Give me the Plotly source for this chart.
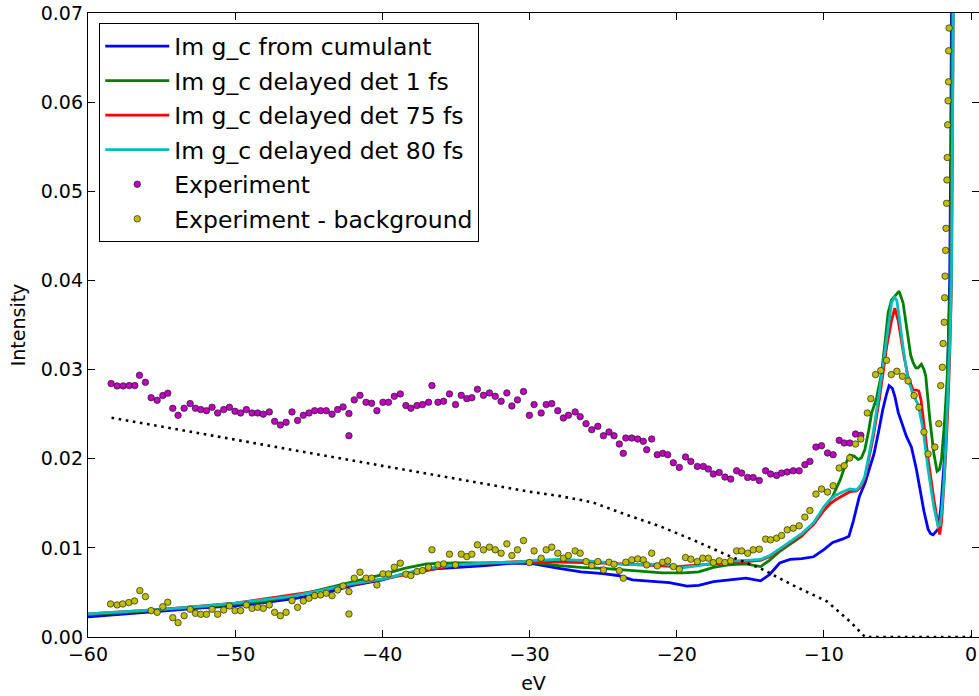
import plotly.graph_objects as go

# ---- model curves: Im g_c ----
cum_x = [-60, -57, -55, -52, -50, -48.3, -46, -44, -42, -40, -38.5, -37, -35, -33, -31, -29.7,
         -28, -26.5, -25, -24, -23, -22, -20.5, -19.3, -18.5, -17.5, -16.5, -15.3, -14.3, -13.7,
         -13.0, -12.3, -11.5, -10.7, -10.0, -9.4, -8.7, -8.3, -8.0, -7.6, -7.2, -6.9, -6.6, -6.3,
         -6.0, -5.75, -5.57, -5.35, -5.18, -4.95, -4.7, -4.39, -4.05, -3.71, -3.45, -3.2, -2.92,
         -2.75, -2.58, -2.4, -2.24, -2.05, -1.9, -1.75, -1.6, -1.45, -1.38, -1.33, -1.3]
cum_y = [0.00225, 0.0026, 0.0029, 0.0033, 0.0035, 0.0038, 0.0043, 0.0049, 0.0058, 0.0064, 0.0071,
         0.0076, 0.0078, 0.0080, 0.0083, 0.0082, 0.0077, 0.0073, 0.0071, 0.0069, 0.0064, 0.0063,
         0.0061, 0.0057, 0.0058, 0.0062, 0.0064, 0.0066, 0.0063, 0.0070, 0.0083, 0.0087, 0.0088,
         0.0090, 0.0098, 0.0106, 0.0110, 0.0113, 0.0130, 0.0157, 0.0173, 0.0188, 0.0205, 0.0229,
         0.0255, 0.0272, 0.0282, 0.0279, 0.0270, 0.0252, 0.0239, 0.0225, 0.0213, 0.0188, 0.0164,
         0.0141, 0.0121, 0.0116, 0.01146, 0.0118, 0.0121, 0.0145, 0.0176, 0.0215, 0.0290, 0.0400,
         0.0550, 0.0720, 0.0800]

d1_x = [-60, -57, -55, -52, -50, -48, -46, -44, -42, -40, -38.5, -37, -35, -33, -31, -29.5, -28,
        -26.5, -25, -24, -22.5, -21, -19.5, -18.5, -17.5, -16.5, -15.3, -14.3, -13.7, -13.0, -12.3,
        -11.5, -10.7, -10.0, -9.4, -8.9, -8.5, -8.24, -7.95, -7.67, -7.45, -7.22, -6.95, -6.76,
        -6.42, -6.08, -5.85, -5.63, -5.4, -5.18, -4.89, -4.62, -4.45, -4.28, -4.1, -3.94, -3.75,
        -3.6, -3.37, -3.2, -3.08, -2.8, -2.53, -2.31, -2.15, -2.01, -1.79, -1.63, -1.5, -1.4,
        -1.33, -1.27, -1.25]
d1_y = [0.0025, 0.0028, 0.0031, 0.0034, 0.0037, 0.0040, 0.0046, 0.0054, 0.0062, 0.0070, 0.0077,
        0.0082, 0.0083, 0.0083, 0.0084, 0.0083, 0.0080, 0.0078, 0.0077, 0.0076, 0.0074, 0.0072,
        0.0072, 0.0073, 0.0078, 0.0081, 0.0082, 0.0079, 0.0086, 0.0096, 0.0104, 0.0113, 0.0128,
        0.0143, 0.0158, 0.0176, 0.0195, 0.0204, 0.0203, 0.0199, 0.0201, 0.0210, 0.0232, 0.0251,
        0.0268, 0.0296, 0.0330, 0.0364, 0.0378, 0.0382, 0.0388, 0.0375, 0.0355, 0.0334, 0.0316,
        0.0308, 0.0302, 0.0302, 0.0306, 0.0300, 0.0293, 0.0244, 0.0206, 0.0186, 0.0188, 0.0199,
        0.0244, 0.0289, 0.0350, 0.0401, 0.0550, 0.0720, 0.0800]

d75_x = [-60, -55, -50, -45, -40, -35, -30, -25, -20, -17.5, -15.3, -14.3, -13.7, -13.0, -12.3,
         -11.5, -10.7, -10.0, -9.6, -9.2, -8.7, -8.24, -7.78, -7.5, -7.22, -6.95, -6.65, -6.2,
         -5.74, -5.4, -5.18, -4.95, -4.57, -4.28, -3.94, -3.7, -3.55, -3.4, -3.26, -2.92, -2.53,
         -2.24, -2.13, -2.0, -1.85, -1.72, -1.58, -1.45, -1.33, -1.25, -1.2, -1.17]
d75_y = [0.0026, 0.0031, 0.0038, 0.0050, 0.0065, 0.0081, 0.0085, 0.0083, 0.0079, 0.0082, 0.0085,
         0.0086, 0.0090, 0.0098, 0.0106, 0.0114, 0.0126, 0.0142, 0.0149, 0.0154, 0.0159, 0.0163,
         0.0164, 0.0168, 0.0178, 0.0198, 0.0224, 0.0270, 0.0325, 0.0355, 0.0369, 0.0355, 0.0316,
         0.0292, 0.0277, 0.0277, 0.0276, 0.0266, 0.0246, 0.0200, 0.0155, 0.0126, 0.0115, 0.0130,
         0.0165, 0.0205, 0.0255, 0.0315, 0.0395, 0.0540, 0.0700, 0.0800]

d80_x = [-60, -57, -55, -52, -50, -48, -46, -44, -42, -40, -38.5, -37, -35, -33, -31, -29.5, -28,
         -26.5, -25, -24, -22.5, -21, -19.5, -18.5, -17.5, -16.5, -15.3, -14.3, -13.7, -13.0,
         -12.3, -11.5, -10.7, -10.0, -9.6, -9.2, -8.7, -8.24, -7.78, -7.5, -7.22, -6.95, -6.65,
         -6.2, -5.74, -5.4, -5.2, -5.05, -4.89, -4.57, -4.28, -3.94, -3.6, -3.26, -2.92, -2.53,
         -2.24, -2.1, -2.01, -1.85, -1.72, -1.58, -1.45, -1.33, -1.25, -1.2, -1.17]
d80_y = [0.0026, 0.0029, 0.0031, 0.0035, 0.0038, 0.0042, 0.0046, 0.0053, 0.0060, 0.0065, 0.0071,
         0.0077, 0.0081, 0.0083, 0.0084, 0.0086, 0.0087, 0.0086, 0.0084, 0.0082, 0.0081, 0.0082,
         0.0078, 0.0080, 0.0083, 0.0085, 0.0086, 0.0087, 0.0091, 0.0099, 0.0107, 0.0116, 0.0128,
         0.0146, 0.0154, 0.0159, 0.0163, 0.0166, 0.0165, 0.0170, 0.0180, 0.0202, 0.0229, 0.0278,
         0.0337, 0.0375, 0.0381, 0.0378, 0.0360, 0.0319, 0.0289, 0.0272, 0.0261, 0.0233, 0.0188,
         0.0146, 0.0124, 0.0126, 0.0139, 0.0172, 0.0214, 0.0265, 0.0326, 0.0401, 0.0550, 0.0720,
         0.0800]

# ---- measured spectrum ----
exp_x = [-58.43, -58.02, -57.61, -57.20, -56.82, -56.50, -56.10, -55.71, -55.30, -54.92,
         -54.58, -54.24, -53.88, -53.47, -53.06, -52.70, -52.34, -51.95, -51.57, -51.19,
         -50.78, -50.39, -50.01, -49.63, -49.24, -48.85, -48.47, -48.09, -47.68, -47.32,
         -46.93, -46.54, -46.14, -45.76, -45.37, -44.98, -44.60, -44.19, -43.81, -43.42,
         -43.04, -42.67, -42.27, -42.27, -41.91, -41.52, -41.11, -40.73, -40.37, -39.96,
         -39.58, -39.19, -38.78, -38.40, -38.06, -37.65, -37.27, -36.86, -36.63, -36.22,
         -35.84, -35.44, -35.03, -34.64, -34.26, -33.92, -33.54, -33.13, -32.72, -32.33,
         -31.93, -31.54, -31.20, -30.82, -30.41, -30.01, -29.69, -29.21, -28.87, -28.49,
         -28.08, -27.70, -27.36, -26.90, -26.56, -26.16, -25.77, -25.36, -24.98, -24.60,
         -24.26, -23.90, -23.63, -23.46, -23.05, -22.65, -22.27, -22.04, -21.70, -21.32,
         -20.95, -20.61, -20.23, -19.82, -19.40, -19.04, -18.60, -18.19, -17.85, -17.51,
         -17.11, -16.72, -16.33, -15.93, -15.59, -15.18, -14.80, -14.39, -13.96, -13.62,
         -13.21, -12.87, -12.49, -12.08, -11.68, -11.29, -10.95, -10.54, -10.16, -9.75,
         -9.37, -8.96, -8.62, -8.24, -7.85, -7.49]
exp_y = [0.02843, 0.02817, 0.02817, 0.02820, 0.02820, 0.02936, 0.02857, 0.02685, 0.02655, 0.02708,
         0.02734, 0.02566, 0.02487, 0.02566, 0.02618, 0.02566, 0.02551, 0.02539, 0.02577, 0.02513,
         0.02551, 0.02577, 0.02532, 0.02513, 0.02551, 0.02513, 0.02513, 0.02500, 0.02525, 0.02419,
         0.02378, 0.02408, 0.02525, 0.02430, 0.02487, 0.02513, 0.02539, 0.02539, 0.02539, 0.02500,
         0.02551, 0.02581, 0.02506, 0.02258, 0.02660, 0.02711, 0.02633, 0.02622, 0.02539, 0.02633,
         0.02633, 0.02700, 0.02727, 0.02596, 0.02566, 0.02596, 0.02607, 0.02633, 0.02820, 0.02633,
         0.02644, 0.02727, 0.02607, 0.02711, 0.02674, 0.02685, 0.02779, 0.02711, 0.02738, 0.02700,
         0.02644, 0.02738, 0.02592, 0.02660, 0.02753, 0.02487, 0.02607, 0.02513, 0.02607, 0.02618,
         0.02539, 0.02457, 0.02487, 0.02525, 0.02472, 0.02393, 0.02326, 0.02363, 0.02258, 0.02300,
         0.02258, 0.02165, 0.02060, 0.02232, 0.02232, 0.02221, 0.02195, 0.02101, 0.02221, 0.02045,
         0.02060, 0.02045, 0.01955, 0.01902, 0.02020, 0.01970, 0.01914, 0.01914, 0.01884, 0.01828,
         0.01846, 0.01794, 0.01772, 0.01865, 0.01839, 0.01790, 0.01790, 0.01756, 0.01865, 0.01828,
         0.01813, 0.01839, 0.01851, 0.01865, 0.01865, 0.01933, 0.01970, 0.02131, 0.02146, 0.02064,
         0.02045, 0.02206, 0.02176, 0.02176, 0.02277, 0.02262]

sub_x = [-58.47, -58.02, -57.64, -57.23, -56.84, -56.48, -56.10, -55.71, -55.30, -54.92,
         -54.58, -54.24, -53.88, -53.47, -53.06, -52.70, -52.34, -51.95, -51.57, -51.19,
         -50.78, -50.39, -50.01, -49.63, -49.24, -48.85, -48.47, -48.09, -47.68, -47.32,
         -46.93, -46.54, -46.14, -45.76, -45.37, -44.98, -44.60, -44.19, -43.81, -43.42,
         -43.04, -42.67, -42.27, -42.27, -41.91, -41.52, -41.11, -40.73, -40.37, -39.96,
         -39.58, -39.19, -38.78, -38.40, -38.06, -37.65, -37.27, -36.86, -36.63, -36.22,
         -35.84, -35.44, -35.03, -34.64, -34.26, -33.92, -33.54, -33.13, -32.72, -32.33,
         -31.93, -31.54, -31.20, -30.82, -30.41, -30.01, -29.69, -29.21, -28.87, -28.49,
         -28.08, -27.70, -27.36, -26.90, -26.56, -26.16, -25.77, -25.36, -24.98, -24.60,
         -24.26, -23.90, -23.63, -23.46, -23.05, -22.65, -22.27, -22.04, -21.70, -21.32,
         -20.95, -20.61, -20.23, -19.82, -19.40, -19.04, -18.60, -18.23, -17.85, -17.51,
         -17.11, -16.72, -16.33, -15.93, -15.59, -15.18, -14.80, -14.39, -13.96, -13.62,
         -13.21, -12.87, -12.49, -12.08, -11.68, -11.29, -10.95, -10.54, -10.16, -9.75,
         -9.37, -8.96, -8.62, -8.24, -7.85, -7.49, -7.05, -6.81, -6.49, -6.13,
         -5.74, -5.42, -5.04, -4.66, -4.28, -3.87, -3.54, -3.20, -2.92, -2.46,
         -2.19, -2.06, -1.95, -1.90, -1.82, -1.79, -1.76, -1.73, -1.70, -1.66,
         -1.64, -1.62, -1.59, -1.56, -1.53, -1.52, -1.49]
sub_y = [0.00371, 0.00360, 0.00371, 0.00386, 0.00404, 0.00520, 0.00453, 0.00296, 0.00277, 0.00340,
         0.00390, 0.00217, 0.00161, 0.00239, 0.00311, 0.00266, 0.00255, 0.00255, 0.00311, 0.00255,
         0.00303, 0.00348, 0.00296, 0.00296, 0.00360, 0.00322, 0.00333, 0.00322, 0.00360, 0.00277,
         0.00239, 0.00277, 0.00408, 0.00333, 0.00404, 0.00434, 0.00464, 0.00472, 0.00491, 0.00464,
         0.00528, 0.00573, 0.00509, 0.00258, 0.00660, 0.00727, 0.00660, 0.00660, 0.00584, 0.00708,
         0.00708, 0.00783, 0.00828, 0.00704, 0.00689, 0.00734, 0.00745, 0.00783, 0.00978, 0.00809,
         0.00820, 0.00929, 0.00809, 0.00929, 0.00902, 0.00929, 0.01034, 0.00978, 0.01008, 0.00978,
         0.00940, 0.01045, 0.00914, 0.00978, 0.01082, 0.00835, 0.00966, 0.00884, 0.00978, 0.01008,
         0.00940, 0.00884, 0.00914, 0.00966, 0.00940, 0.00846, 0.00801, 0.00846, 0.00753, 0.00839,
         0.00817, 0.00745, 0.00660, 0.00839, 0.00865, 0.00876, 0.00865, 0.00809, 0.00940, 0.00798,
         0.00839, 0.00854, 0.00790, 0.00761, 0.00891, 0.00873, 0.00846, 0.00884, 0.00884, 0.00835,
         0.00854, 0.00835, 0.00854, 0.00966, 0.00966, 0.00940, 0.00978, 0.00985, 0.01098, 0.01090,
         0.01109, 0.01139, 0.01202, 0.01221, 0.01247, 0.01345, 0.01419, 0.01603, 0.01660, 0.01626,
         0.01697, 0.01896, 0.01921, 0.02008, 0.02165, 0.02221, 0.02513, 0.02674, 0.02944, 0.02989,
         0.03104, 0.02944, 0.02981, 0.02925, 0.02872, 0.02708, 0.02577, 0.02300, 0.02053, 0.02131,
         0.02393, 0.02820, 0.03026, 0.03292, 0.03531, 0.03806, 0.04048, 0.04337, 0.04584, 0.04865,
         0.05127, 0.05379, 0.05745, 0.06015, 0.06228, 0.06576, 0.06831]

# ---- background subtracted from the measurement ----
bg_x = [-58.4, -50, -40, -30, -27.9, -25.7, -23.4, -21.1, -18.9, -16.6, -14.3, -12.1, -9.8,
        -8.2, -7.2, 0.0]
bg_y = [0.0246, 0.0221, 0.0192, 0.0163, 0.0158, 0.0151, 0.0137, 0.0124, 0.0109, 0.0092,
        0.0077, 0.0058, 0.0040, 0.0017, 0.0, 0.0]

x_ticks = [-60, -50, -40, -30, -20, -10, 0]
y_ticks = [0.00, 0.01, 0.02, 0.03, 0.04, 0.05, 0.06, 0.07]

FONT = "DejaVu Sans"
LW = 2.8

fig = go.Figure()

curves = [
    ("Im g_c from cumulant", cum_x, cum_y, "#0000ff"),
    ("Im g_c delayed det 1 fs", d1_x, d1_y, "#008000"),
    ("Im g_c delayed det 75 fs", d75_x, d75_y, "#ff0000"),
    ("Im g_c delayed det 80 fs", d80_x, d80_y, "#00bfbf"),
]
for i, (name, xs, ys, col) in enumerate(curves):
    fig.add_trace(go.Scatter(x=xs, y=ys, mode="lines", name=name,
                             legendgroup=f"g{i}",
                             line=dict(color=col, width=LW)))

fig.add_trace(go.Scatter(x=exp_x, y=exp_y, mode="markers", name="Experiment",
                         legendgroup="g4",
                         marker=dict(color="#bf00bf", size=6.5,
                                     line=dict(color="#222222", width=0.7))))
fig.add_trace(go.Scatter(x=sub_x, y=sub_y, mode="markers", name="Experiment - background",
                         legendgroup="g5",
                         marker=dict(color="#bfbf00", size=6.5,
                                     line=dict(color="#222222", width=0.7))))
fig.add_trace(go.Scatter(x=bg_x, y=bg_y, mode="lines", showlegend=False,
                         line=dict(color="black", width=2.6, dash="2.6px,4.6px")))

axis_common = dict(
    showgrid=False, zeroline=False, showline=True, linecolor="black", linewidth=1.3,
    mirror="allticks", ticks="inside", ticklen=7, tickwidth=1, tickcolor="black",
    tickfont=dict(family=FONT, size=19, color="black"),
)

fig.update_xaxes(range=[-60, 0.54], tickvals=x_ticks,
                 title=dict(text="eV", font=dict(family=FONT, size=19, color="black"),
                            standoff=12),
                 **axis_common)
fig.update_yaxes(range=[0, 0.07], tickvals=y_ticks, tickformat=".2f",
                 title=dict(text="Intensity", font=dict(family=FONT, size=19, color="black"),
                            standoff=10),
                 **axis_common)

fig.update_layout(
    width=979, height=696,
    margin=dict(l=88, r=0, t=13, b=59, pad=0),
    plot_bgcolor="white", paper_bgcolor="white",
    font=dict(family=FONT, color="black"),
    legend=dict(x=0.0123, y=0.984, xanchor="left", yanchor="top",
                bgcolor="white", bordercolor="black", borderwidth=1.3,
                font=dict(family=FONT, size=23.5, color="black"),
                traceorder="grouped", tracegroupgap=1, itemwidth=64),
)

fig.write_html("out.html")
